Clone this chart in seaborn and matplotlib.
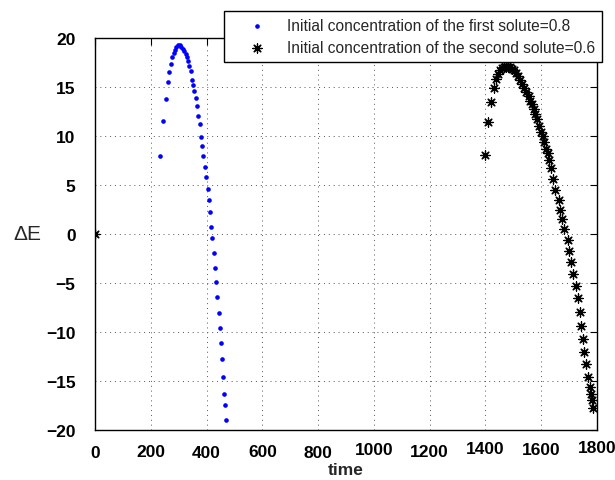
import matplotlib
matplotlib.use("Agg")
import matplotlib.pyplot as plt
import matplotlib.transforms as mtransforms
import seaborn as sns
import pandas as pd

# ---- data ----
time_first = [0, 232, 244, 253, 260, 266, 272, 276, 282, 287, 292, 297, 303, 309, 315, 320,
              325, 329, 334, 338, 343, 347, 352, 355, 362, 366, 371, 375, 380, 384, 389,
              394, 399, 404, 407, 412, 417, 420, 425, 430, 433, 437, 443, 447, 450, 455,
              459, 462, 467, 470]
dE_first = [0, 7.99, 11.53, 13.78, 15.48, 16.53, 17.35, 18.03, 18.47, 18.81, 19.08, 19.26,
            19.26, 19.11, 18.88, 18.67, 18.34, 18.06, 17.62, 17.17, 16.63, 15.74, 15.2,
            14.62, 13.88, 13.03, 12.07, 11.22, 9.93, 9.01, 7.96, 6.81, 5.82, 4.59, 3.44,
            2.24, 0.74, -0.44, -1.97, -3.47, -4.9, -6.46, -8.03, -9.56, -11.12, -12.72,
            -14.59, -16.3, -17.45, -19.01]

time_second = [0, 1398, 1409, 1420, 1431, 1439, 1446, 1453, 1460, 1467, 1475, 1482, 1489,
               1496, 1503, 1510, 1518, 1525, 1532, 1539, 1546, 1555, 1561, 1567, 1573, 1579,
               1586, 1593, 1599, 1605, 1611, 1617, 1623, 1629, 1635, 1642, 1650, 1662,
               1669, 1675, 1683, 1695, 1701, 1707, 1713, 1725, 1731, 1738, 1743, 1749,
               1755, 1761, 1768, 1774, 1780, 1783, 1784]
dE_second = [0, 8.06, 11.4, 13.5, 14.93, 15.82, 16.33, 16.73, 16.94, 17.04, 17.07, 17.07,
             17.0, 16.87, 16.7, 16.43, 16.09, 15.68, 15.27, 14.87, 14.46, 14.05, 13.6,
             13.23, 12.76, 12.24, 11.73, 11.05, 10.38, 10.03, 9.42, 8.67, 8.27, 7.58, 6.7,
             5.61, 4.52, 3.47, 2.48, 1.53, 0.51, -0.58, -1.7, -2.89, -4.11, -5.34, -6.56,
             -8.0, -9.36, -10.71, -12.01, -13.23, -14.62, -15.64, -16.33, -16.94, -17.79]

label_first = "Initial concentration of the first solute=0.8"
label_second = "Initial concentration of the second solute=0.6"
x_ticks = [0, 200, 400, 600, 800, 1000, 1200, 1400, 1600, 1800]
y_ticks = [-20, -15, -10, -5, 0, 5, 10, 15, 20]
x_label = "time"
y_label = "\u0394E"

df1 = pd.DataFrame({"time": time_first, "dE": dE_first})
df2 = pd.DataFrame({"time": time_second, "dE": dE_second})

sns.set_style("white")
plt.rcParams["font.family"] = ["Liberation Sans", "DejaVu Sans"]

fig = plt.figure(figsize=(6.15, 4.81), dpi=100)
ax = fig.add_axes([95 / 615, 1 - 431 / 481, 502 / 615, 392 / 481])

sns.scatterplot(data=df1, x="time", y="dE", ax=ax, marker="o", s=11, color="#0000ff",
                edgecolor="#0000ff", linewidth=0, label=label_first, zorder=3)
sns.scatterplot(data=df2, x="time", y="dE", ax=ax, marker=(8, 2, 0), s=45,
                color="black", linewidth=0.9, label=label_second, zorder=3)

ax.set_xlim(0, 1800)
ax.set_ylim(-20, 20)
ax.set_xticks(x_ticks)
ax.set_yticks(y_ticks)
ax.set_xticklabels([str(v) for v in x_ticks], fontweight="bold", fontsize=12.5)
ax.set_yticklabels(["\u2212" + str(-v) if v < 0 else str(v) for v in y_ticks],
                   fontweight="bold", fontsize=12.5)
ax.grid(True, linestyle=(0, (1, 4)), color="#555555", linewidth=0.7)
ax.tick_params(axis="both", direction="in", length=5, width=0.8, top=True, right=True,
               colors="black")
ax.tick_params(axis="x", pad=11)
ax.tick_params(axis="y", pad=14)
for s in ax.spines.values():
    s.set_color("black")
    s.set_linewidth(1.0)

# staggered x tick labels as in the reference
offsets = [0, 1.7, 0, 1.7, 0, 3.3, 1, 4.3, 3.3, 5.7]
for lab, off in zip(ax.get_xticklabels(), offsets):
    lab.set_transform(lab.get_transform() +
                      mtransforms.ScaledTranslation(0, off / 100, fig.dpi_scale_trans))

ax.set_xlabel(x_label, fontweight="bold", fontsize=12.5, labelpad=1)
ax.set_ylabel(y_label, fontsize=15, rotation=0)
ax.yaxis.set_label_coords(-0.135, 0.5)
ax.yaxis.label.set_verticalalignment("center")

leg = ax.legend(loc="upper right", bbox_to_anchor=(602 / 615, 1 - 12 / 481),
                bbox_transform=fig.transFigure, fontsize=11.2, frameon=True,
                fancybox=False, edgecolor="black", framealpha=1, borderpad=0.45,
                labelspacing=0.45, handlelength=3.4, handletextpad=0.2,
                borderaxespad=0, markerscale=1.0)
leg.get_frame().set_linewidth(1.0)

fig.savefig("out.png", dpi=100)
